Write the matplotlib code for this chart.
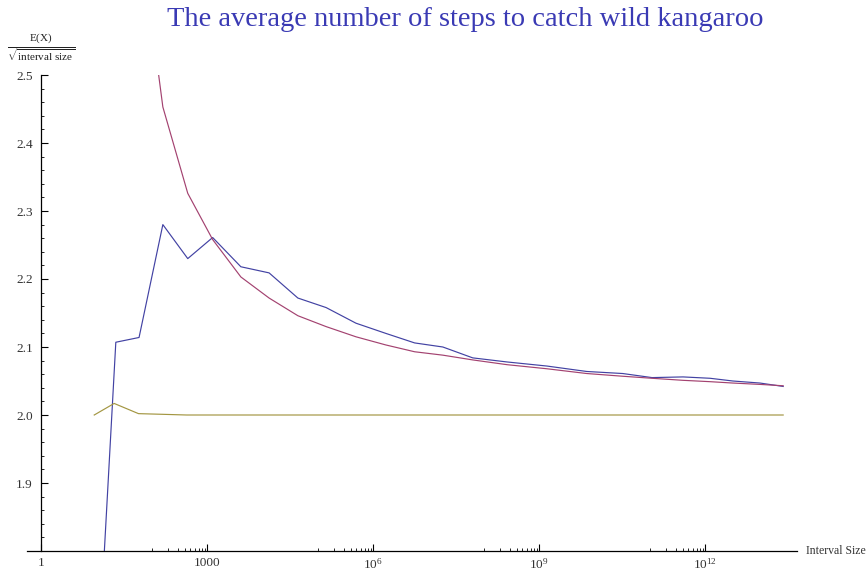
"""Average number of steps to catch the wild kangaroo, normalised by sqrt(interval size)."""
import matplotlib
matplotlib.use("Agg")
import matplotlib.pyplot as plt
import numpy as np
from matplotlib.ticker import FixedLocator, NullFormatter

plt.rcParams["font.family"] = ["Liberation Serif", "DejaVu Serif"]
plt.rcParams["mathtext.fontset"] = "custom"
plt.rcParams["mathtext.rm"] = "Liberation Serif"
plt.rcParams["mathtext.it"] = "Liberation Serif:italic"

# log10 of interval size at each sample
log_size = [0.90, 1.35, 1.77, 2.20, 2.65, 3.10, 3.61, 4.12, 4.64, 5.15, 5.69, 6.23,
            6.75, 7.26, 7.80, 8.42, 9.14, 9.86, 10.51, 11.04, 11.60, 12.09, 12.50,
            12.99, 13.41]
measured = [1.44, 2.107, 2.114, 2.280, 2.230, 2.261, 2.218, 2.209, 2.172, 2.158, 2.135,
            2.120, 2.106, 2.100, 2.084, 2.078, 2.072, 2.064, 2.061, 2.055, 2.056, 2.054,
            2.050, 2.047, 2.042]

log_size_theory = log_size[2:]
theory = [2.72, 2.453, 2.326, 2.258, 2.203, 2.172, 2.146, 2.130, 2.115, 2.103, 2.093,
          2.088, 2.081, 2.074, 2.068, 2.061, 2.057, 2.054, 2.051, 2.049, 2.047, 2.045,
          2.043]

log_size_tame = [0.96, 1.32, 1.76, 2.20, 2.63, 13.41]
tame = [2.000, 2.017, 2.002, 2.001, 2.000, 2.000]

major_x = [1, 1e3, 1e6, 1e9, 1e12]
major_x_labels = ["1", "1000", r"$10^{6}$", r"$10^{9}$", r"$10^{12}$"]
major_y = [1.9, 2.0, 2.1, 2.2, 2.3, 2.4, 2.5]

W, H = 867, 575
fig = plt.figure(figsize=(W / 100, H / 100), dpi=100)
ax = fig.add_axes([27 / W, 1 - 551 / H, (797 - 27) / W, (551 - 75) / H])

blue = (0.26, 0.26, 0.64)
red = (0.64, 0.26, 0.44)
olive = (0.64, 0.59, 0.26)
ax.plot(10 ** np.array(log_size), measured, color=blue, lw=0.85)
ax.plot(10 ** np.array(log_size_theory), theory, color=red, lw=0.85)
ax.plot(10 ** np.array(log_size_tame), tame, color=olive, lw=0.85)

ax.set_xscale("log")
ax.set_xlim(10 ** -0.255, 10 ** 13.66)
ax.set_ylim(1.8, 2.5)

for side in ("top", "right"):
    ax.spines[side].set_visible(False)
ax.spines["left"].set_position(("data", 1))
ax.spines["left"].set_bounds(1.8, 2.5)
for sp in ("left", "bottom"):
    ax.spines[sp].set_linewidth(0.9)

ax.xaxis.set_major_locator(FixedLocator(major_x))
ax.set_xticklabels(major_x_labels)
minor_x = [k * m / 10 for m in major_x[1:] for k in range(1, 10)]
ax.xaxis.set_minor_locator(FixedLocator(minor_x))
ax.xaxis.set_minor_formatter(NullFormatter())

ax.set_yticks(major_y)
ax.set_yticklabels([f"{v:.1f}" for v in major_y])
ax.yaxis.set_minor_locator(FixedLocator(np.arange(1.82, 2.5, 0.02)))

ax.tick_params(which="major", direction="in", length=5, width=0.8,
               labelsize=9.5, labelcolor="#333333", pad=4)
ax.tick_params(which="minor", direction="in", length=2.5, width=0.6)
ax.tick_params(axis="y", which="major", pad=6)

fig.text(465 / W, 1 - 19 / H, "The average number of steps to catch wild kangaroo",
         ha="center", va="center", fontsize=20.5, color="#3a3ab4")
fig.text(41 / W, 1 - 48 / H, r"$\frac{\mathrm{E(X)}}{\sqrt{\mathrm{interval\ size}}}$",
         ha="center", va="center", fontsize=11.5, color="#222222")
fig.text(806 / W, 1 - 551 / H, "Interval Size", ha="left", va="center",
         fontsize=8.5, color="#333333")

fig.savefig("out.png", dpi=100)
